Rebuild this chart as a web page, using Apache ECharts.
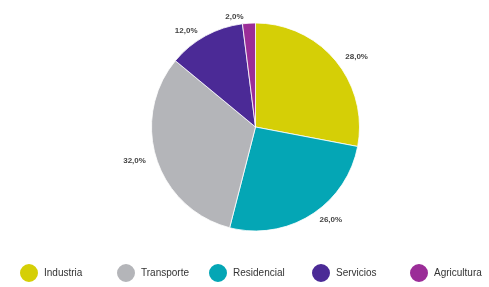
<!DOCTYPE html>
<html>
<head>
<meta charset="utf-8">
<script src="https://cdn.jsdelivr.net/npm/echarts@6/dist/echarts.min.js"></script>
<style>html,body{margin:0;padding:0;background:#fff}#c{width:489px;height:287px}</style>
</head>
<body>
<div id="c"></div>
<script>
const categories = ['Industria', 'Residencial', 'Transporte', 'Servicios', 'Agricultura'];
const values = [28, 26, 32, 12, 2];
const colors = ['#d5cf06', '#04a6b5', '#b4b5b9', '#4b2a96', '#9b2d98'];
const legendOrder = ['Industria', 'Transporte', 'Residencial', 'Servicios', 'Agricultura'];
const legendLeft = [13, 110, 202, 305, 403];

const chart = echarts.init(document.getElementById('c'), null, {renderer: 'canvas'});
chart.setOption({
  animation: false,
  backgroundColor: '#fff',
  color: colors,
  legend: legendOrder.map((name, i) => ({
    data: [name],
    left: legendLeft[i],
    top: 257,
    icon: 'circle',
    itemWidth: 20,
    itemHeight: 20,
    itemGap: 0,
    textStyle: {fontFamily: 'Liberation Sans, Arial, sans-serif', fontSize: 10, color: '#333'}
  })),
  series: [{
    type: 'pie',
    center: [255.5, 127],
    radius: 104,
    startAngle: 90,
    clockwise: true,
    avoidLabelOverlap: false,
    itemStyle: {borderColor: '#fff', borderWidth: 0.8},
    label: {
      show: true,
      position: 'outside',
      fontFamily: 'Liberation Sans, Arial, sans-serif',
      fontSize: 8,
      fontWeight: 'bold',
      color: '#444',
      formatter: p => p.value.toFixed(1).replace('.', ',') + '%'
    },
    labelLine: {show: false, length: 6, length2: 0},
    emphasis: {disabled: true},
    data: categories.map((c, i) => ({name: c, value: values[i]}))
  }]
});
</script>
</body>
</html>
